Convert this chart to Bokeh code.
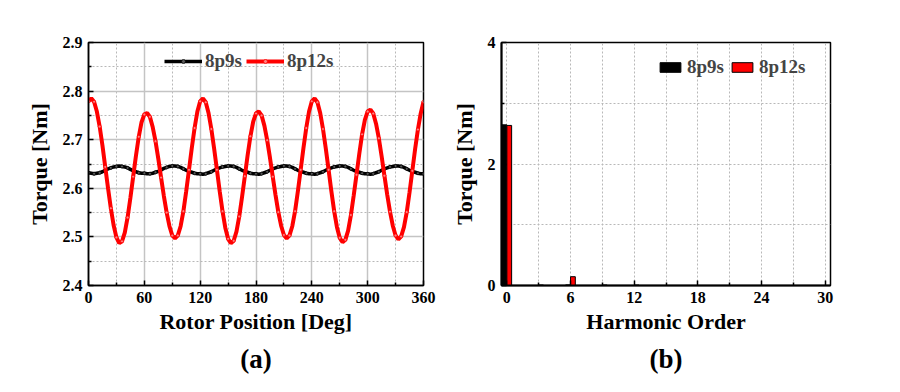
import numpy as np
from bokeh.plotting import figure
from bokeh.layouts import row
from bokeh.models import (FixedTicker, Range1d, Legend, LegendItem, Title,
                          ColumnDataSource)
from bokeh.transform import dodge
from bokeh.embed import file_html
from bokeh.resources import INLINE

# ---------------- data ----------------
rotor_pos = list(range(0, 361, 3))

torque_8p12s = [
    2.779, 2.785, 2.778, 2.758, 2.727, 2.688, 2.644, 2.600, 2.559, 2.524,
    2.499, 2.487, 2.491, 2.509, 2.540, 2.580, 2.624, 2.667, 2.706, 2.736,
    2.752, 2.755, 2.747, 2.726, 2.697, 2.661, 2.622, 2.584, 2.550, 2.522,
    2.503, 2.497, 2.503, 2.522, 2.553, 2.594, 2.638, 2.683, 2.724, 2.758,
    2.779, 2.785, 2.777, 2.755, 2.722, 2.682, 2.638, 2.594, 2.553, 2.519,
    2.496, 2.487, 2.492, 2.511, 2.542, 2.582, 2.625, 2.668, 2.707, 2.737,
    2.754, 2.758, 2.750, 2.729, 2.699, 2.663, 2.624, 2.586, 2.551, 2.523,
    2.504, 2.497, 2.503, 2.522, 2.553, 2.594, 2.638, 2.683, 2.724, 2.758,
    2.779, 2.785, 2.777, 2.755, 2.722, 2.682, 2.638, 2.594, 2.553, 2.520,
    2.498, 2.489, 2.494, 2.513, 2.545, 2.585, 2.628, 2.671, 2.711, 2.741,
    2.758, 2.762, 2.754, 2.733, 2.703, 2.666, 2.626, 2.587, 2.552, 2.523,
    2.503, 2.495, 2.501, 2.520, 2.551, 2.592, 2.636, 2.681, 2.721, 2.754,
    2.778,
]

torque_8p9s = [
    2.632, 2.631, 2.630, 2.631, 2.632, 2.634, 2.637, 2.640, 2.642, 2.644,
    2.645, 2.646, 2.645, 2.644, 2.642, 2.639, 2.636, 2.634, 2.632, 2.631,
    2.631, 2.630, 2.630, 2.631, 2.633, 2.635, 2.638, 2.641, 2.643, 2.645,
    2.646, 2.646, 2.645, 2.643, 2.640, 2.637, 2.635, 2.633, 2.631, 2.630,
    2.630, 2.629, 2.630, 2.632, 2.634, 2.637, 2.640, 2.642, 2.644, 2.645,
    2.646, 2.646, 2.645, 2.643, 2.640, 2.637, 2.635, 2.633, 2.631, 2.630,
    2.630, 2.629, 2.630, 2.632, 2.634, 2.637, 2.640, 2.642, 2.644, 2.645,
    2.646, 2.646, 2.645, 2.643, 2.640, 2.637, 2.635, 2.633, 2.631, 2.630,
    2.630, 2.629, 2.630, 2.632, 2.634, 2.637, 2.640, 2.642, 2.644, 2.645,
    2.646, 2.646, 2.645, 2.643, 2.640, 2.637, 2.635, 2.633, 2.631, 2.630,
    2.630, 2.629, 2.630, 2.632, 2.634, 2.637, 2.640, 2.642, 2.644, 2.645,
    2.646, 2.646, 2.645, 2.643, 2.640, 2.637, 2.635, 2.633, 2.631, 2.630,
    2.630,
]

harmonic_order = [0, 3, 6, 9, 12]
harm_8p9s = [2.645, 0.0, 0.010, 0.0, 0.0]
harm_8p12s = [2.635, 0.008, 0.145, 0.008, 0.007]

series_labels = ["8p9s", "8p12s"]
x_ticks_a = [0, 60, 120, 180, 240, 300, 360]
y_ticks_a = [2.4, 2.5, 2.6, 2.7, 2.8, 2.9]
x_ticks_b = [0, 6, 12, 18, 24, 30]
y_ticks_b = [0, 2, 4]

FONT = "Liberation Serif"


def style_axes(p):
    for ax in (p.xaxis[0], p.yaxis[0]):
        ax.major_label_text_font = FONT
        ax.major_label_text_font_style = "bold"
        ax.major_label_text_font_size = "16px"
        ax.major_label_text_color = "black"
        ax.axis_label_text_font = FONT
        ax.axis_label_text_font_style = "bold"
        ax.axis_label_text_font_size = "22px"
        ax.axis_label_text_color = "black"
        ax.major_tick_in = 5
        ax.major_tick_out = 0
        ax.minor_tick_in = 3
        ax.minor_tick_out = 0
        ax.axis_line_width = 1.5
        ax.major_tick_line_width = 1.5
        ax.minor_tick_line_width = 1.5
        ax.major_label_standoff = 6
        ax.axis_label_standoff = 8
    p.xaxis[0].axis_label_standoff = 3
    p.outline_line_color = "black"
    p.outline_line_width = 1.5
    p.outline_line_alpha = 1


# ---------------- (a) torque waveform ----------------
p1 = figure(width=448, height=390, x_range=Range1d(0, 360),
            y_range=Range1d(2.4, 2.9), output_backend="svg",
            toolbar_location=None, min_border_left=88, min_border_right=25,
            min_border_top=42, min_border_bottom=105)
p1.xaxis.ticker = FixedTicker(ticks=x_ticks_a,
                              minor_ticks=[30, 90, 150, 210, 270, 330])
p1.yaxis.ticker = FixedTicker(ticks=y_ticks_a,
                              minor_ticks=[2.45, 2.55, 2.65, 2.75, 2.85])
p1.xaxis.axis_label = "Rotor Position [Deg]"
p1.yaxis.axis_label = "Torque [Nm]"
style_axes(p1)
for g in (p1.xgrid, p1.ygrid):
    g.grid_line_color = "#c4c4c4"
    g.grid_line_width = 1.5
    g.minor_grid_line_color = "#b8b8b8"
    g.minor_grid_line_dash = "2 2"
    g.minor_grid_line_width = 1

l1 = p1.line(rotor_pos, torque_8p9s, color="black", line_width=3.5)
s1 = p1.scatter(rotor_pos[::2], torque_8p9s[::2], size=3, line_color="black",
                fill_color="white", fill_alpha=0.35, line_width=0.8)
l2 = p1.line(rotor_pos, torque_8p12s, color="#ff0000", line_width=4)
s2 = p1.scatter(rotor_pos[::2], torque_8p12s[::2], size=3,
                line_color="#ff0000", fill_color="white", fill_alpha=0.5,
                line_width=0.8)

leg1 = Legend(items=[LegendItem(label=series_labels[0], renderers=[l1, s1]),
                     LegendItem(label=series_labels[1], renderers=[l2, s2])],
              orientation="horizontal", location=(76, 213),
              label_text_font=FONT, label_text_font_style="bold",
              label_text_font_size="19px", glyph_width=38, glyph_height=10,
              label_height=20, label_standoff=3, spacing=4, padding=0,
              margin=0, background_fill_alpha=0, border_line_alpha=0)
p1.add_layout(leg1)
p1.add_layout(Title(text="(a)", align="center", text_font=FONT,
                    text_font_style="bold", text_font_size="27px",
                    text_color="black", offset=-9), "below")

# ---------------- (b) harmonics ----------------
p2 = figure(width=448, height=390, x_range=Range1d(-0.5, 30.5),
            y_range=Range1d(0, 4), output_backend="svg",
            toolbar_location=None, min_border_left=49, min_border_right=66,
            min_border_top=42, min_border_bottom=104)
p2.xaxis.ticker = FixedTicker(ticks=x_ticks_b,
                              minor_ticks=[3, 9, 15, 21, 27])
p2.yaxis.ticker = FixedTicker(ticks=y_ticks_b, minor_ticks=[1, 3])
p2.xaxis.axis_label = "Harmonic Order"
p2.yaxis.axis_label = "Torque [Nm]"
style_axes(p2)
p2.xaxis.axis_line_width = 2
p2.yaxis.axis_line_width = 2
for g in (p2.xgrid, p2.ygrid):
    g.grid_line_color = "#b8b8b8"
    g.grid_line_dash = "2 2"
    g.grid_line_width = 1
    g.minor_grid_line_color = "#b8b8b8"
    g.minor_grid_line_dash = "2 2"
    g.minor_grid_line_width = 1

src = ColumnDataSource(dict(h=harmonic_order, a=harm_8p9s, b=harm_8p12s))
b1 = p2.vbar(x=dodge("h", -0.23), top="a", width=0.45, source=src,
             fill_color="black", line_color="black", line_width=1)
b2 = p2.vbar(x=dodge("h", 0.23), top="b", width=0.45, source=src,
             fill_color="#ff0000", line_color="black", line_width=1)

leg2 = Legend(items=[LegendItem(label=series_labels[0], renderers=[b1]),
                     LegendItem(label=series_labels[1], renderers=[b2])],
              orientation="horizontal", location=(156, 207),
              label_text_font=FONT, label_text_font_style="bold",
              label_text_font_size="19px", glyph_width=26, glyph_height=12,
              label_height=20, label_standoff=4, spacing=5, padding=0,
              margin=0, background_fill_alpha=0, border_line_alpha=0)
p2.add_layout(leg2)
p2.add_layout(Title(text="(b)", align="center", text_font=FONT,
                    text_font_style="bold", text_font_size="27px",
                    text_color="black", offset=-13), "below")

layout = row(p1, p2)
open("out.html", "w").write(file_html(layout, INLINE))
